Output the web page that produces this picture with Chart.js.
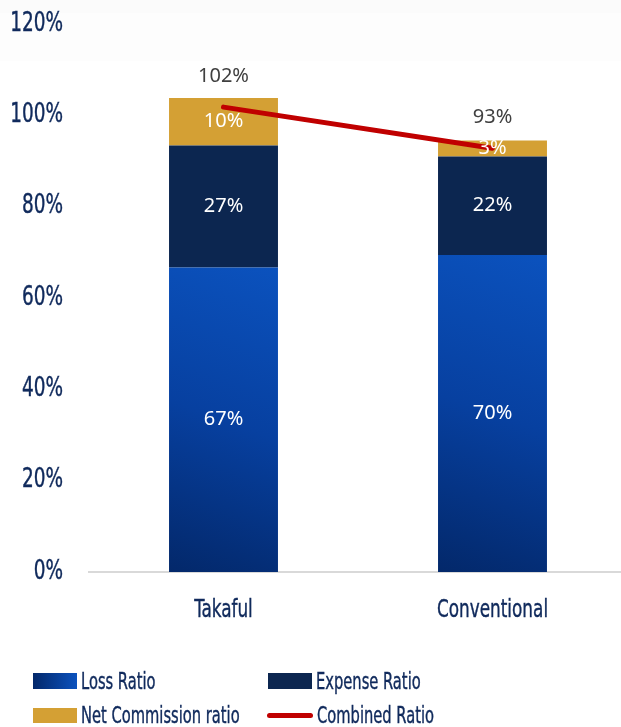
<!DOCTYPE html>
<html>
<head>
<meta charset="utf-8">
<script src="https://cdn.jsdelivr.net/npm/chart.js@4/dist/chart.umd.min.js"></script>
<style>
  html, body { margin:0; padding:0; background:#fff; overflow:hidden; width:621px; height:727px; }
  #band1 { position:absolute; left:0; top:0; width:621px; height:13px; background:#fbfbfb; }
  #band2 { position:absolute; left:0; top:13px; width:621px; height:48px; background:#fdfdfd; }
  #wrap { position:absolute; left:0; top:0; width:627px; height:727px; }
  #legend { position:absolute; left:0; top:0; width:621px; height:727px; pointer-events:none;
            font-family:'DejaVu Sans Condensed',sans-serif; color:#102a5c; font-size:23px; }
  .item { position:absolute; height:28px; display:flex; align-items:center; }
  .sw { width:44px; height:16px; margin-right:4px; flex:none; }
  .ln { width:46px; height:5px; border-radius:3px; background:#c00000; margin-right:4px; flex:none; }
  .tx { display:inline-block; transform:scaleX(0.71); transform-origin:left center; white-space:nowrap;
        -webkit-text-stroke:0.4px #102a5c; }
</style>
</head>
<body>
<div id="band1"></div><div id="band2"></div>
<div id="wrap"><canvas id="c" width="627" height="727"></canvas></div>
<div id="legend">
  <div class="item" style="left:33px; top:667px;"><div class="sw" style="background:linear-gradient(90deg,#03286a,#0b52be);"></div><span class="tx">Loss Ratio</span></div>
  <div class="item" style="left:268px; top:667px;"><div class="sw" style="background:#0c2650;"></div><span class="tx">Expense Ratio</span></div>
  <div class="item" style="left:33px; top:701px;"><div class="sw" style="background:#d4a034;height:15px;"></div><span class="tx">Net Commission ratio</span></div>
  <div class="item" style="left:267px; top:701px;"><div class="ln"></div><span class="tx">Combined Ratio</span></div>
</div>
<script>
const categories = ['Takaful', 'Conventional'];
const lossRatio = [66.7, 69.4];
const expenseRatio = [26.7, 21.6];
const commissionRatio = [10.4, 3.5];
const combinedRatio = [101.8, 92.8];
const lossLabels = ['67%', '70%'];
const expenseLabels = ['27%', '22%'];
const commissionLabels = ['10%', '3%'];
const combinedLabels = ['102%', '93%'];
const yTicks = [0, 20, 40, 60, 80, 100, 120];

const AXIS_FONT = "'DejaVu Sans Condensed',sans-serif";
const LABEL_FONT = "'Noto Sans','Open Sans',sans-serif";

function lossGradient(ctx) {
  const chart = ctx.chart;
  if (!chart.chartArea) return '#0842a0';
  const xs = chart.scales.x, ys = chart.scales.y;
  const x = xs.getPixelForValue(ctx.dataIndex);
  const yTop = ys.getPixelForValue(lossRatio[ctx.dataIndex]);
  const yBot = ys.getPixelForValue(0);
  const g = chart.ctx.createLinearGradient(x - 55, yBot, x + 55, yTop);
  g.addColorStop(0, '#03286a');
  g.addColorStop(0.5, '#0740a0');
  g.addColorStop(1, '#0b52be');
  return g;
}

function condensedLabels(sx) {
  return function(chartArea) {
    const ctx = this.ctx;
    const items = this.getLabelItems(chartArea);
    for (const item of items) {
      const o = item.options;
      ctx.save();
      ctx.translate(o.translation[0], o.translation[1]);
      ctx.rotate(o.rotation || 0);
      ctx.scale(sx, 1);
      ctx.font = item.font.string;
      ctx.fillStyle = o.color;
      ctx.strokeStyle = o.color;
      ctx.lineWidth = 0.4;
      ctx.textAlign = o.textAlign;
      ctx.textBaseline = o.textBaseline;
      const lines = Array.isArray(item.label) ? item.label : [item.label];
      lines.forEach((l, k) => {
        const yy = item.textOffset + k * item.font.lineHeight;
        ctx.fillText(l, 0, yy);
        ctx.strokeText(l, 0, yy);
      });
      ctx.restore();
    }
  };
}

const condensePlugin = {
  id: 'condense',
  beforeDraw(chart) {
    if (!chart.scales.x._cond) { chart.scales.x.drawLabels = condensedLabels(0.75); chart.scales.x._cond = true; }
    if (!chart.scales.y._cond) { chart.scales.y.drawLabels = condensedLabels(0.79); chart.scales.y._cond = true; }
  }
};

const labelPlugin = {
  id: 'labels',
  afterDatasetsDraw(chart) {
    const ctx = chart.ctx;
    ctx.save();
    ctx.font = "20px " + LABEL_FONT;
    ctx.textAlign = 'center';
    ctx.textBaseline = 'middle';
    const sets = [lossLabels, expenseLabels, commissionLabels];
    sets.forEach((labs, i) => {
      const meta = chart.getDatasetMeta(i);
      meta.data.forEach((bar, j) => {
        ctx.fillStyle = '#ffffff';
        ctx.fillText(labs[j], bar.x, (bar.y + bar.base) / 2);
      });
    });
    const lm = chart.getDatasetMeta(3);
    lm.data.forEach((pt, j) => {
      ctx.fillStyle = '#404040';
      ctx.fillText(combinedLabels[j], pt.x, pt.y - 31);
    });
    ctx.restore();
  }
};

new Chart(document.getElementById('c'), {
  data: {
    labels: categories,
    datasets: [
      { type:'bar', label:'Loss Ratio', data: lossRatio, backgroundColor: lossGradient, order:1, stack:'s' },
      { type:'bar', label:'Expense Ratio', data: expenseRatio, backgroundColor:'#0c2650', order:1, stack:'s' },
      { type:'bar', label:'Net Commission ratio', data: commissionRatio, backgroundColor:'#d4a034', order:1, stack:'s' },
      { type:'line', label:'Combined Ratio', data: combinedRatio, borderColor:'#c00000', backgroundColor:'#c00000',
        borderWidth:5, borderCapStyle:'round', pointRadius:0, tension:0, order:0, stack:'line' }
    ]
  },
  options: {
    responsive:false,
    animation:false,
    layout: { padding: { top:24, left:0, right:0, bottom:0 } },
    plugins: { legend:{ display:false }, tooltip:{ enabled:false } },
    datasets: { bar: { categoryPercentage:1.0, barPercentage:0.405, borderWidth:0 } },
    scales: {
      x: {
        stacked:true,
        grid:{ display:false, drawTicks:false },
        border:{ display:true, color:'#d9d9d9', width:2 },
        ticks:{ color:'#102a5c', font:{ family:AXIS_FONT, size:25 }, padding:23 },
        afterFit(s){ s.height = 155; s.paddingLeft = 0; s.paddingRight = 0; }
      },
      y: {
        stacked:true,
        min:0, max:120,
        afterBuildTicks(s){ s.ticks = yTicks.map(v => ({ value:v })); },
        grid:{ display:false, drawTicks:false },
        border:{ display:false },
        ticks:{ color:'#102a5c', font:{ family:AXIS_FONT, size:26 }, padding:26, callback: v => v + '%' },
        afterFit(s){ s.width = 89; s.paddingTop = 0; s.paddingBottom = 0; }
      }
    }
  },
  plugins:[condensePlugin, labelPlugin]
});
</script>
</body>
</html>
